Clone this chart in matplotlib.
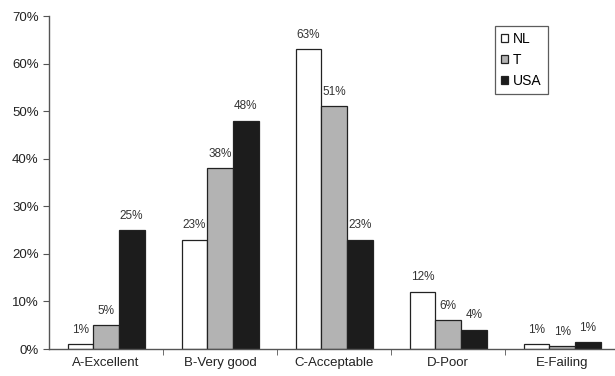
import numpy as np
import matplotlib.pyplot as plt
from matplotlib.ticker import FixedLocator, PercentFormatter

categories = ["A-Excellent", "B-Very good", "C-Acceptable", "D-Poor", "E-Failing"]
series_names = ["NL", "T", "USA"]
nl_values = [1.0, 23.0, 63.0, 12.0, 1.0]
t_values = [5.0, 38.0, 51.0, 6.0, 0.6]
usa_values = [25.0, 48.0, 23.0, 4.0, 1.4]
y_ticks = [0, 10, 20, 30, 40, 50, 60, 70]

plt.rcParams["font.family"] = ["Liberation Sans", "DejaVu Sans"]

fig = plt.figure(figsize=(6.15, 3.76), dpi=100)
# the last category runs slightly past the right edge of the figure
ax = fig.add_axes([0.0797, 0.0718, 0.927, 0.8856])

x = np.arange(len(categories))
width = 0.225
colors = ["white", "#b3b3b3", "#1c1c1c"]
all_values = [nl_values, t_values, usa_values]

for i, (name, vals, col) in enumerate(zip(series_names, all_values, colors)):
    pos = x + (i - 1) * width
    ax.bar(pos, vals, width, color=col, edgecolor="#222222", linewidth=0.9, label=name)
    for px, v in zip(pos, vals):
        ax.text(px, v + 1.8, f"{v:.0f}%", ha="center", va="bottom",
                fontsize=8.5, color="#333333")

ax.set_xlim(-0.5, len(categories) - 0.5)
ax.set_ylim(0, 70)
ax.yaxis.set_major_locator(FixedLocator(y_ticks))
ax.yaxis.set_major_formatter(PercentFormatter(decimals=0))
ax.set_xticks(x)
ax.set_xticklabels(categories)
ax.xaxis.set_minor_locator(FixedLocator(np.arange(len(categories)) + 0.5))
ax.tick_params(axis="x", which="major", length=0, pad=6, labelsize=9.5, colors="#222222")
ax.tick_params(axis="x", which="minor", length=4, direction="out", color="#555555")
ax.tick_params(axis="y", length=4, direction="out", labelsize=9.5, color="#555555",
               labelcolor="#222222")

for side in ["top", "right"]:
    ax.spines[side].set_visible(False)
for side in ["left", "bottom"]:
    ax.spines[side].set_color("#555555")
    ax.spines[side].set_linewidth(1.0)

leg = ax.legend(loc="upper left", bbox_to_anchor=(0.782, 0.970), fontsize=10,
                frameon=True, fancybox=False, edgecolor="#333333",
                handlelength=0.5, handleheight=0.5, handletextpad=0.35,
                labelspacing=0.5, borderpad=0.45, borderaxespad=0)
leg.get_frame().set_linewidth(0.9)

fig.savefig("out.png", dpi=100)
